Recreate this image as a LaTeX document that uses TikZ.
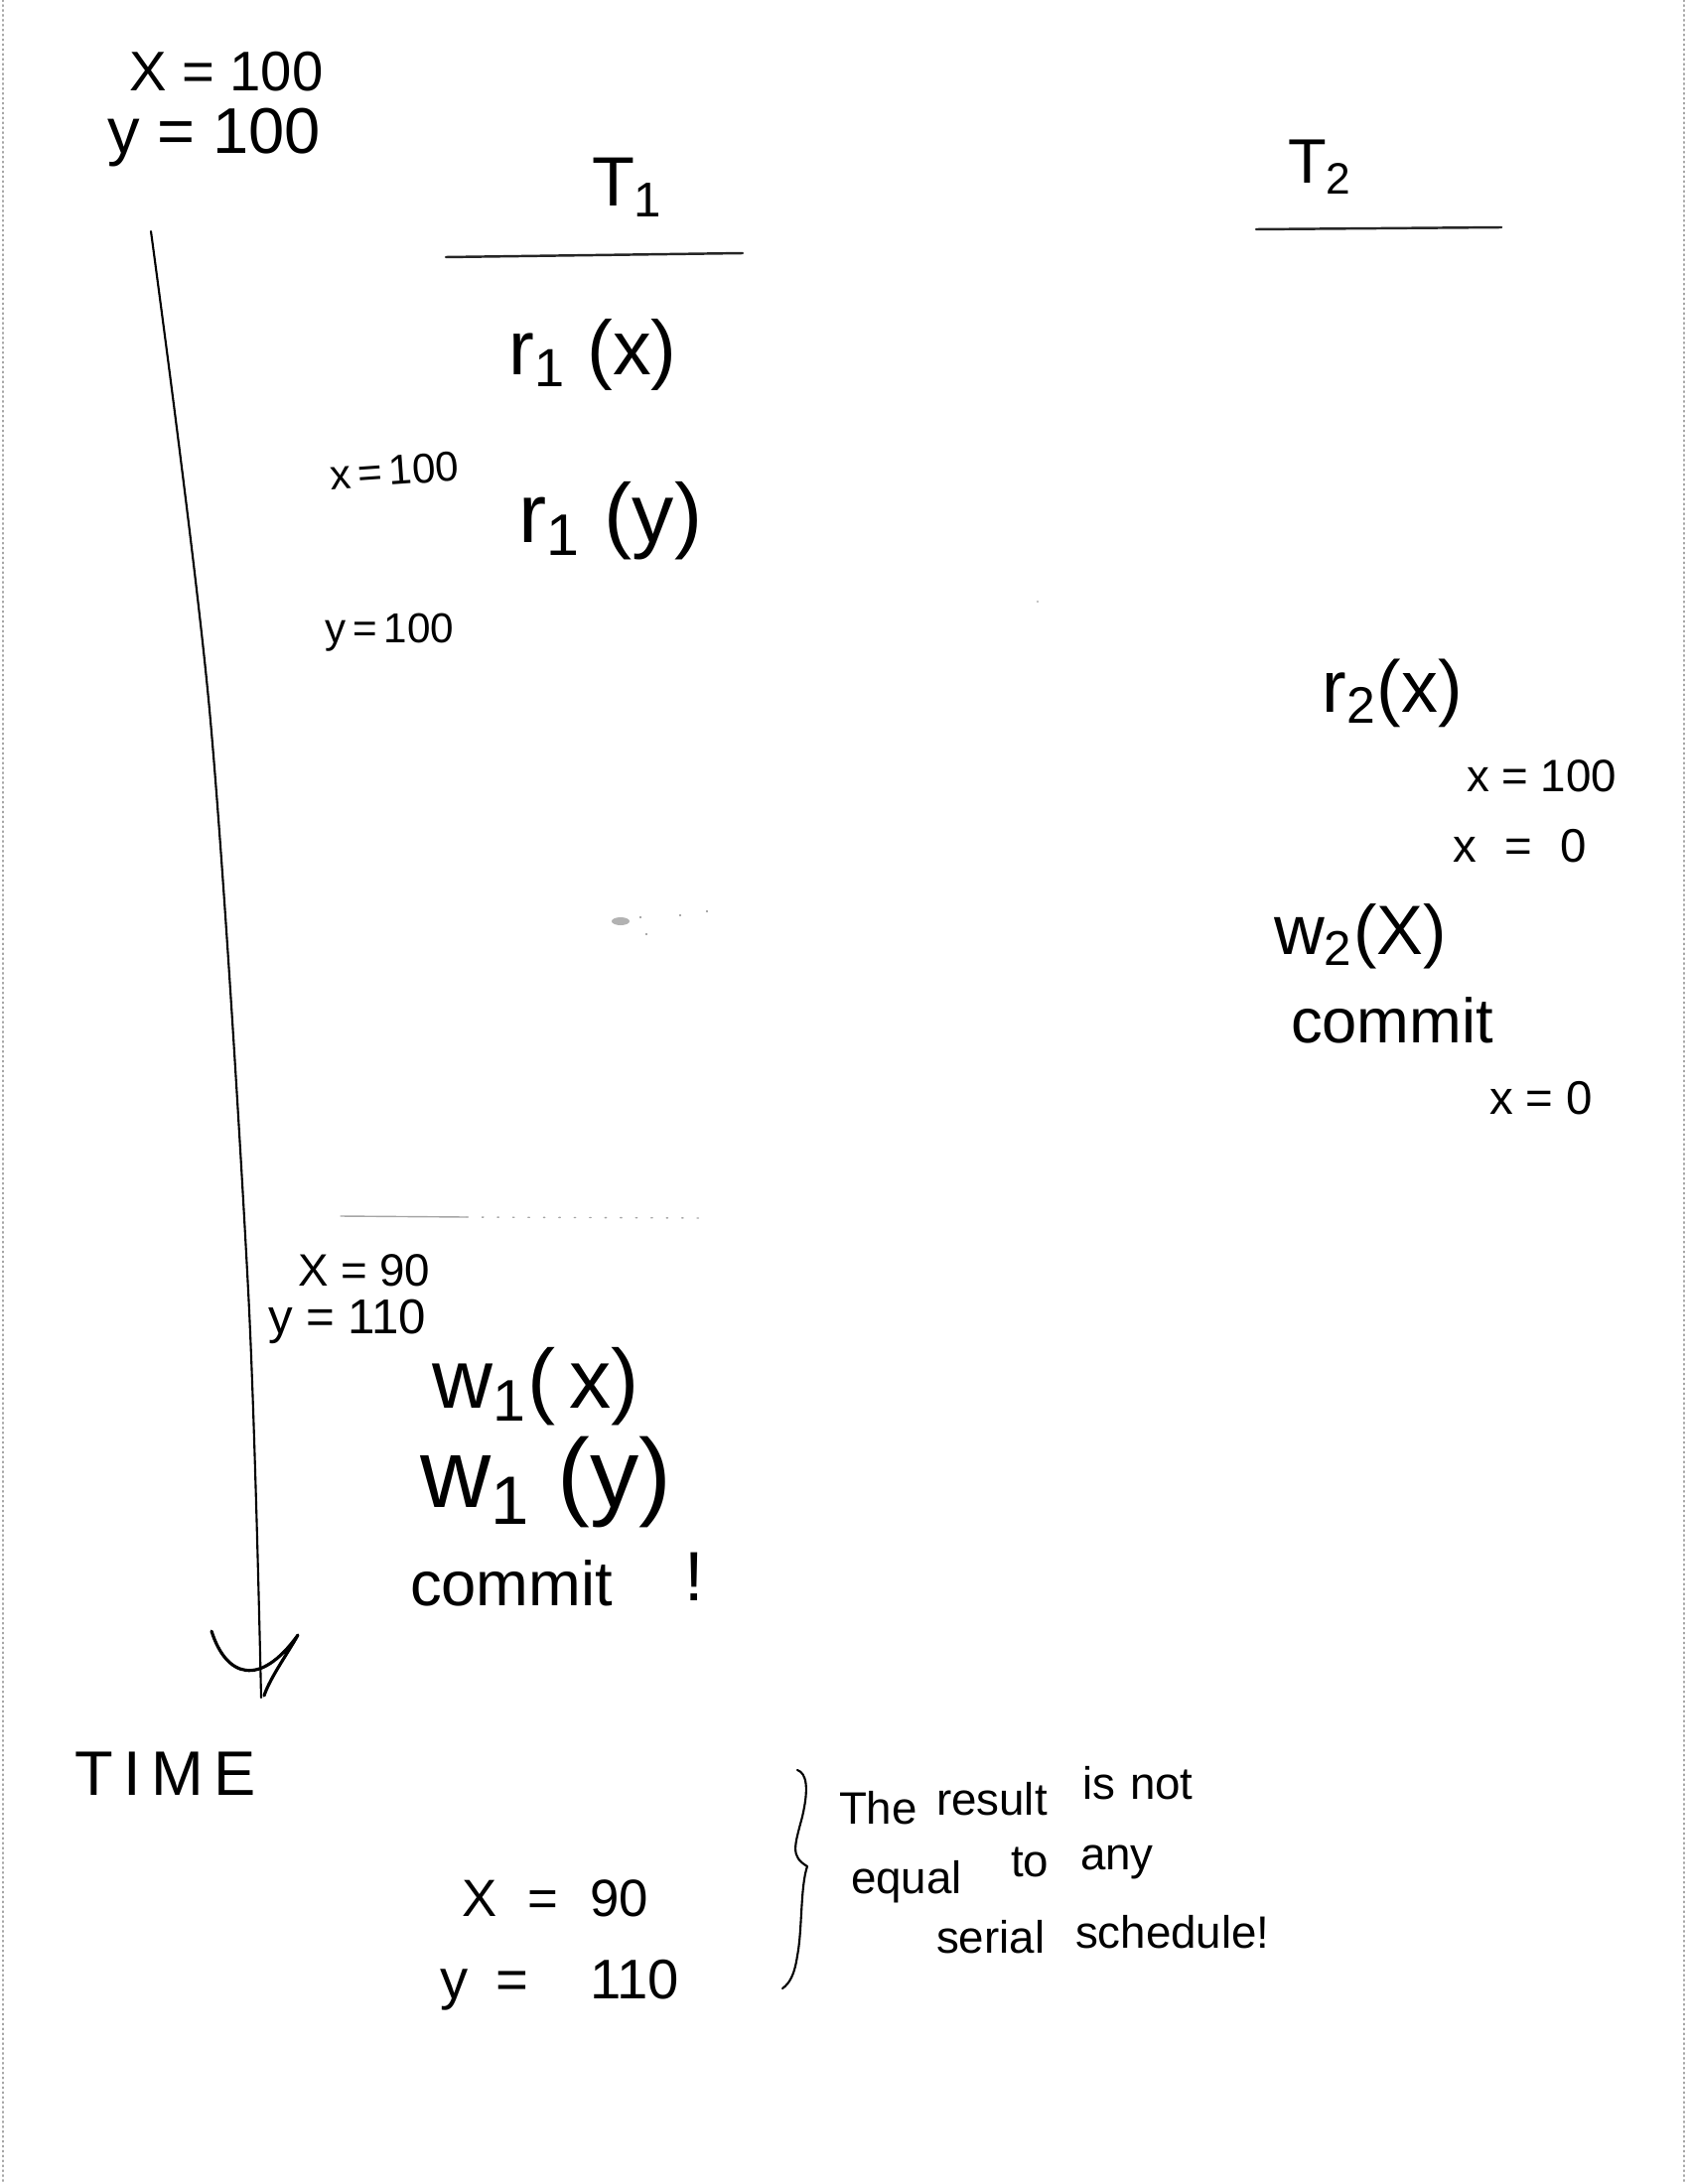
\documentclass[tikz,border=0pt]{standalone}
\usepackage{fontspec}
\setmainfont{Liberation Sans}
\newcommand{\sbs}[1]{\textsubscript{#1}}
\begin{document}
\begin{tikzpicture}[x=0.01cm,y=-0.01cm,
  lbl/.style={inner sep=0pt, outer sep=0pt, text=black},
  fs/.style={font=\fontsize{#1}{#1}\selectfont},
  pen/.style={line width=0.9pt, line cap=round, line join=round},
  thinpen/.style={line width=0.6pt, line cap=round, line join=round},
  uline/.style={line width=0.7pt, black!85, line cap=round},
  faint/.style={line width=0.4pt, black!35, line cap=round}]
\fill[white] (0,0) rectangle (1700,2200);
\useasboundingbox (0,0) rectangle (1700,2200);

% scan borders
\coordinate (lb1) at (3,0); \coordinate (lb2) at (3,2200);
\coordinate (rb1) at (1696,0); \coordinate (rb2) at (1696,2200);
\draw[faint, densely dotted] (lb1) -- (lb2);
\draw[faint, densely dotted] (rb1) -- (rb2);

% initial values
\node[lbl,fs=16,anchor=base west] (x0) at (130,92) {X = 100};
\node[lbl,fs=18.5,anchor=base west] (y0) at (108,155) {y = 100};

% column headers
\node[lbl,fs=20,anchor=base west] (t1) at (596,208) {T\sbs{1}};
\coordinate (u1a) at (449,259); \coordinate (u1b) at (748,255);
\draw[uline] (u1a) -- (u1b);
\node[lbl,fs=18,anchor=base west] (t2) at (1297,185) {T\sbs{2}};
\coordinate (u2a) at (1265,231); \coordinate (u2b) at (1512,229);
\draw[uline] (u2a) -- (u2b);

% time axis
\coordinate (ta) at (152,233);
\coordinate (tb) at (211,715);
\coordinate (tc) at (250,1300);
\coordinate (td) at (263,1710);
\draw[thinpen] plot[smooth] coordinates {(ta) (tb) (tc) (td)};
\coordinate (h1) at (213,1643);
\coordinate (h2) at (300,1647);
\draw[pen] (h1) .. controls (228,1690) and (262,1700) .. (h2)
           .. controls (290,1665) and (272,1690) .. (266,1708);
\node[lbl,fs=18,anchor=base west] (time) at (75,1808) {T\,I\,M\,E};

% T1 operations
\node[lbl,fs=22] (r1x) at (597,357) {r\sbs{1} (x)};
\node[lbl,fs=12,anchor=base west,rotate=4] (xa) at (333,493) {x\,=\,100};
\node[lbl,fs=24] (r1y) at (615,525) {r\sbs{1} (y)};
\node[lbl,fs=12,anchor=base west] (ya) at (327,647) {y\,=\,100};

% T2 operations
\node[lbl,fs=21] (r2x) at (1402,698) {r\sbs{2}(x)};
\node[lbl,fs=13,anchor=base west] (xb) at (1477,797) {x = 100};
\node[lbl,fs=13.5,anchor=base west] (xc) at (1463,868) {x\hspace{.6em}=\hspace{.6em}0};
\node[lbl,fs=20] (w2x) at (1370,943) {w\sbs{2}(X)};
\node[lbl,fs=18,anchor=base west] (c2) at (1300,1050) {commit};
\node[lbl,fs=13.5,anchor=base west] (xd) at (1500,1122) {x = 0};

% faint marks
\coordinate (fa) at (343,1225); \coordinate (fb) at (470,1226); \coordinate (fc) at (710,1227);
\draw[faint] (fa) -- (fb);
\draw[faint, loosely dotted] (fb) -- (fc);
\fill[black!30] (625,928) ellipse (9 and 4);
\fill[black!45] (645,924) circle (1.2);
\fill[black!45] (685,922) circle (1.2);
\fill[black!45] (712,918) circle (1.2);
\fill[black!45] (651,941) circle (1.2);
\fill[black!30] (1045,606) circle (1.2);

% T1 later operations
\node[lbl,fs=13,anchor=base west] (xe) at (300,1295) {X = 90};
\node[lbl,fs=14,anchor=base west] (ye) at (270,1343) {y = 110};
\node[lbl,fs=24] (w1x) at (540,1397) {w\sbs{1}(\,x)};
\node[lbl,fs=28] (w1y) at (550,1493) {w\sbs{1} (y)};
\node[lbl,fs=18,anchor=base west] (c1) at (413,1617) {commit};
\node[lbl,fs=20,anchor=base] (bang) at (699,1612) {!};

% final result
\node[lbl,fs=15,anchor=base west] (xf) at (465,1930) {X\hspace{.6em}=\hspace{.6em}90};
\node[lbl,fs=16,anchor=base west] (yf) at (443,2013) {y\hspace{.5em}=\hspace{1.1em}110};

% brace
\coordinate (b1) at (803,1783);
\coordinate (b2) at (813,1880);
\coordinate (b3) at (788,2003);
\draw[thinpen] (b1) .. controls (812,1786) and (815,1800) .. (808,1830)
  .. controls (800,1860) and (796,1870) .. (b2)
  .. controls (806,1900) and (808,1945) .. (803,1970)
  .. controls (800,1990) and (795,1998) .. (b3);

% comment
\begin{scope}[every node/.style={lbl,fs=13,anchor=base west}]
\node (w1) at (845,1837) {The};
\node (w2) at (943,1828) {result};
\node (w3) at (1090,1812) {is};
\node (w4) at (1138,1812) {not};
\node (w5) at (857,1907) {equal};
\node (w6) at (1018,1890) {to};
\node (w7) at (1088,1883) {any};
\node (w8) at (943,1967) {serial};
\node (w9) at (1083,1962) {schedule!};
\end{scope}
\end{tikzpicture}
\end{document}
